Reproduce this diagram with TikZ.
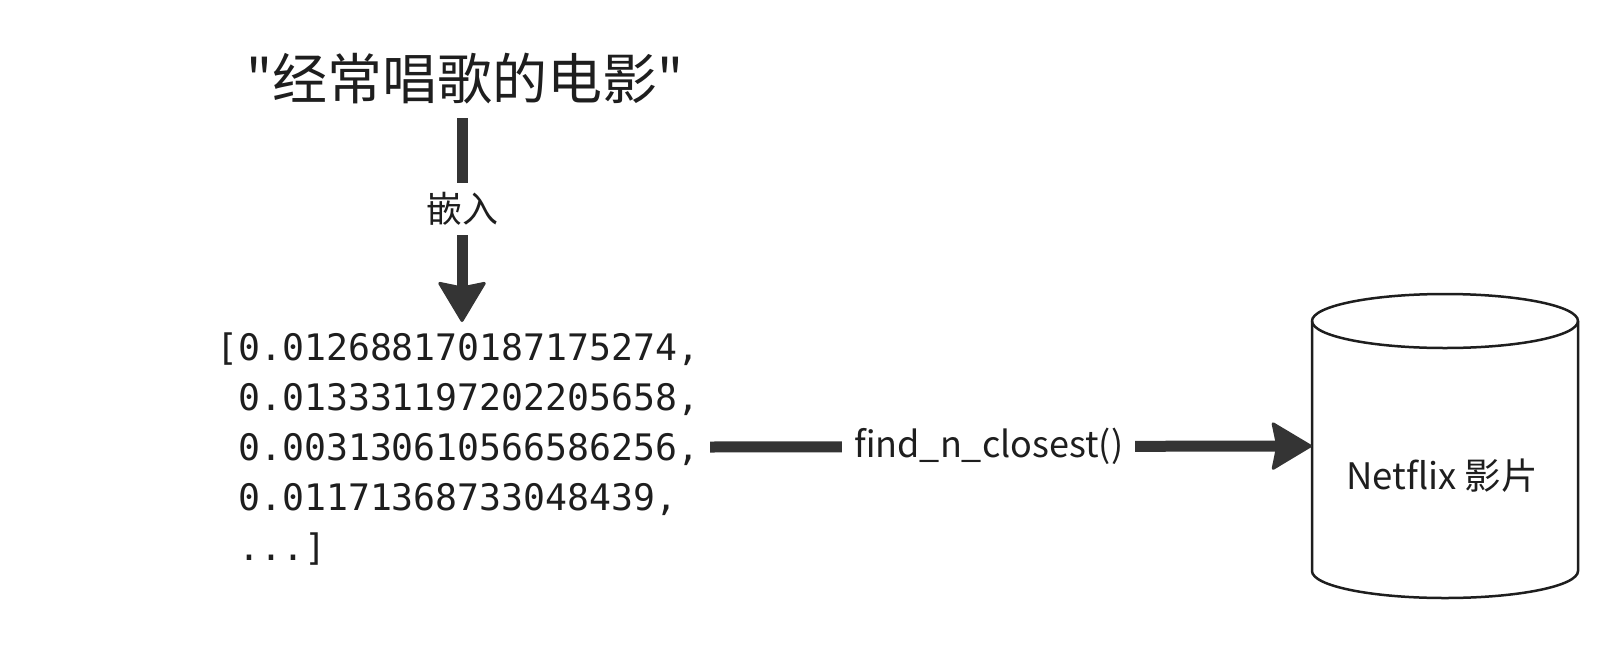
\documentclass[tikz,border=0pt]{standalone}
\usepackage{fontspec}
\setmainfont{Noto Sans CJK SC}[Ligatures=TeXOff]
\newfontfamily\monofont{DejaVu Sans Mono}
\usetikzlibrary{arrows.meta}
\definecolor{ink}{HTML}{1E1E1E}
\definecolor{arr}{HTML}{343434}
\begin{document}
\begin{tikzpicture}[x=1pt,y=-1pt,
  txt/.style={text=ink, inner sep=0pt},
  bigarrow/.style={draw=arr, line width=11pt,
    -{Stealth[length=42pt,width=50pt,inset=5pt,round,line width=3pt]}},
  lbl/.style={fill=white, text=ink, font=\fontsize{36}{40}\selectfont,
    inner xsep=12pt, inner ysep=9pt},
  cyl/.style={draw=ink, line width=2.5pt}]
\useasboundingbox (0,0) rectangle (1608,656);
% title
\node[txt, font=\fontsize{55}{60}\selectfont] (title) at (465,79) {"经常唱歌的电影"};
% vector
\node[txt, font=\monofont\fontsize{36.5}{50}\selectfont, align=left, anchor=north west] (vec) at (216,333)
  {[0.012688170187175274,\\
   \hphantom{[}0.013331197202205658,\\
   \hphantom{[}0.003130610566586256,\\
   \hphantom{[}0.01171368733048439,\\
   \hphantom{[}...]};
% database cylinder
\node[inner sep=0pt, minimum width=266pt, minimum height=304pt] (db) at (1445,446) {};
\fill[white] (1312,321) -- (1312,571) arc[start angle=180,end angle=360,x radius=133pt,y radius=27pt]
  -- (1578,321) arc[start angle=0,end angle=180,x radius=133pt,y radius=27pt] -- cycle;
\draw[cyl] (1312,321) -- (1312,571) arc[start angle=180,end angle=360,x radius=133pt,y radius=27pt]
  -- (1578,321) arc[start angle=0,end angle=180,x radius=133pt,y radius=27pt] -- cycle;
\draw[cyl] (1312,321) arc[start angle=180,end angle=360,x radius=133pt,y radius=27pt];
\node[txt, font=\fontsize{36.5}{40}\selectfont] (dbl) at (1442,476) {Netflix 影片};
% connectors
\coordinate (vs) at (462,118);
\coordinate (ve) at (462,322);
\draw[bigarrow] (vs) -- node[lbl, pos=0.446] (emb) {嵌入} (ve);
\coordinate (hs) at (710,447);
\draw[bigarrow] (hs) -- node[lbl, pos=0.463] (fn) {find\_n\_closest()} (db.west);
\end{tikzpicture}
\end{document}
